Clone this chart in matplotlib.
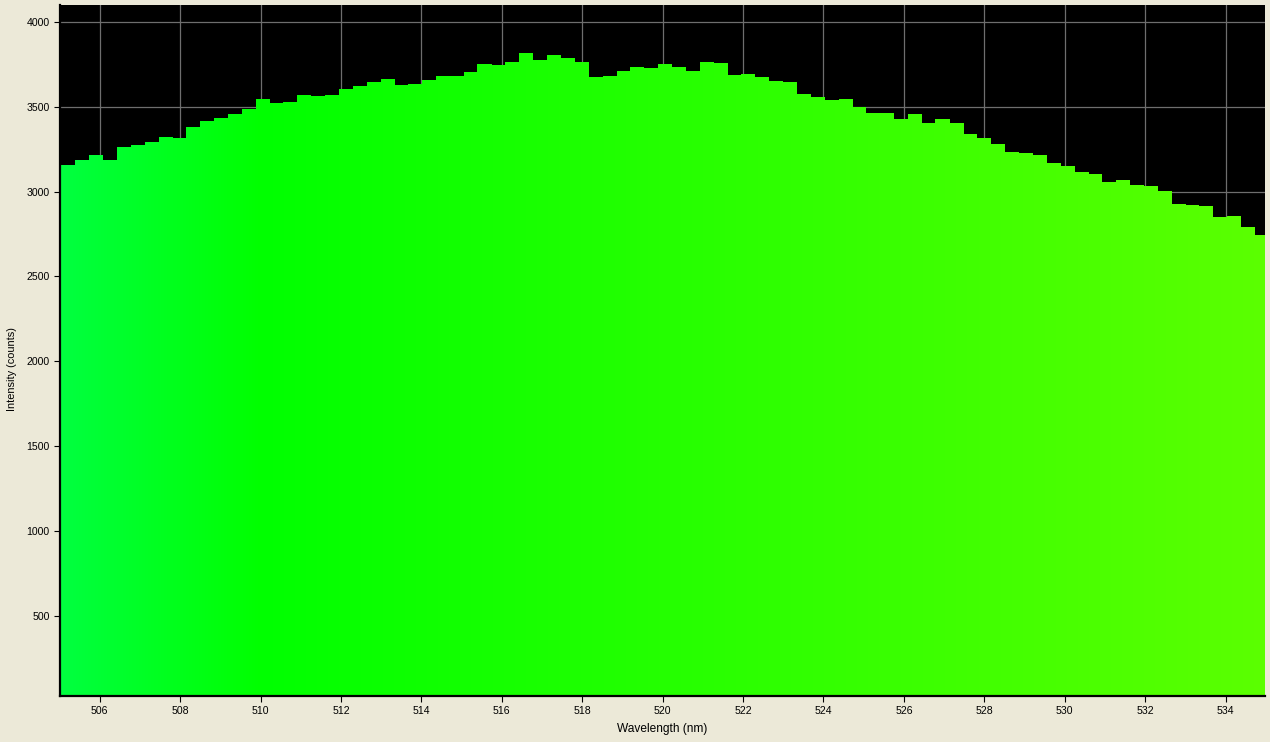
import numpy as np
import matplotlib
matplotlib.use('Agg')
import matplotlib.pyplot as plt
from matplotlib.path import Path
from matplotlib.patches import PathPatch

# ---- data ----
wavelength_nm = [
    505.22, 505.57, 505.91, 506.26, 506.60, 506.95, 507.29, 507.64, 507.98, 508.33,
    508.67, 509.02, 509.36, 509.71, 510.05, 510.40, 510.74, 511.09, 511.43, 511.78,
    512.12, 512.47, 512.81, 513.16, 513.50, 513.85, 514.19, 514.54, 514.88, 515.23,
    515.57, 515.92, 516.26, 516.61, 516.96, 517.30, 517.65, 517.99, 518.34, 518.68,
    519.03, 519.37, 519.72, 520.06, 520.41, 520.75, 521.10, 521.44, 521.79, 522.13,
    522.48, 522.82, 523.17, 523.51, 523.86, 524.20, 524.55, 524.89, 525.24, 525.58,
    525.93, 526.27, 526.62, 526.96, 527.31, 527.65, 528.00, 528.34, 528.69, 529.03,
    529.38, 529.72, 530.07, 530.42, 530.76, 531.11, 531.45, 531.80, 532.14, 532.49,
    532.83, 533.17, 533.52, 533.86, 534.21, 534.55, 534.90,
]
intensity_counts = [
    3158, 3188, 3217, 3188, 3265, 3277, 3294, 3324, 3318, 3383,
    3418, 3436, 3459, 3489, 3548, 3524, 3530, 3571, 3566, 3571,
    3607, 3625, 3648, 3666, 3631, 3636, 3660, 3684, 3684, 3707,
    3754, 3748, 3766, 3819, 3778, 3807, 3790, 3766, 3678, 3684,
    3713, 3737, 3731, 3754, 3737, 3713, 3766, 3760, 3690, 3695,
    3678, 3654, 3648, 3577, 3560, 3542, 3548, 3501, 3465, 3465,
    3430, 3459, 3406, 3430, 3406, 3342, 3318, 3283, 3235, 3229,
    3217, 3170, 3153, 3117, 3106, 3058, 3070, 3040, 3035, 3005,
    2928, 2923, 2917, 2852, 2858, 2793, 2745,
]
x_ticks = [506, 508, 510, 512, 514, 516, 518, 520, 522, 524, 526, 528, 530, 532, 534]
y_ticks = [500, 1000, 1500, 2000, 2500, 3000, 3500, 4000]
x_label = "Wavelength (nm)"
y_label = "Intensity (counts)"

# ---- styling ----
plt.rcParams['font.family'] = ['Liberation Sans', 'DejaVu Sans']
W, H = 1270, 742
fig = plt.figure(figsize=(W / 100, H / 100), dpi=100, facecolor='#ECE9D8')
ax_l, ax_r, ax_t, ax_b = 59.5, 1265, 5, 696
ax = fig.add_axes([ax_l / W, (H - ax_b) / H, (ax_r - ax_l) / W, (ax_b - ax_t) / H])
ax.set_facecolor('black')

# invisible bars -> clip region for the spectral gradient
bars = ax.bar(wavelength_nm, intensity_counts, width=0.35, color='none', linewidth=0)
paths = [b.get_path().transformed(b.get_patch_transform()) for b in bars]
clip = PathPatch(Path.make_compound_path(*paths), transform=ax.transData,
                 facecolor='none', edgecolor='none')
ax.add_patch(clip)

xmin, xmax = 505.0, 534.98
ymin, ymax = 27, 4100
wl = np.linspace(xmin, xmax, 800)
r = np.clip((wl - 510) / 70, 0, 1)
g = np.ones_like(wl)
b = np.clip((510 - wl) / 20, 0, 1)
img = np.stack([r, g, b], axis=-1)[None, :, :]
im = ax.imshow(img, extent=[xmin, xmax, 0, ymax], aspect='auto', origin='lower',
               zorder=2, interpolation='bilinear')
im.set_clip_path(clip)

ax.set_xlim(xmin, xmax)
ax.set_ylim(ymin, ymax)
ax.set_xticks(x_ticks)
ax.set_yticks(y_ticks)
ax.set_axisbelow(True)
ax.grid(True, color='#6E6E6E', linewidth=0.9)

for s in ['top', 'right']:
    ax.spines[s].set_visible(False)
for s in ['left', 'bottom']:
    ax.spines[s].set_color('black')
    ax.spines[s].set_linewidth(1.6)
    ax.spines[s].set_zorder(5)

ax.tick_params(axis='both', direction='out', length=4, width=0.8, color='black',
               labelsize=7.6, labelcolor='black', pad=3)

ax.set_xlabel(x_label, fontsize=8.6, color='black')
ax.set_ylabel(y_label, fontsize=7.9, color='black')
ax.xaxis.set_label_coords(0.5, (ax_b - 729) / (ax_b - ax_t))
ax.yaxis.set_label_coords((12 - ax_l) / (ax_r - ax_l), (ax_b - 369) / (ax_b - ax_t))
ax.xaxis.label.set_verticalalignment('center')
ax.yaxis.label.set_verticalalignment('center')

fig.savefig('out.png', dpi=100, facecolor=fig.get_facecolor())
